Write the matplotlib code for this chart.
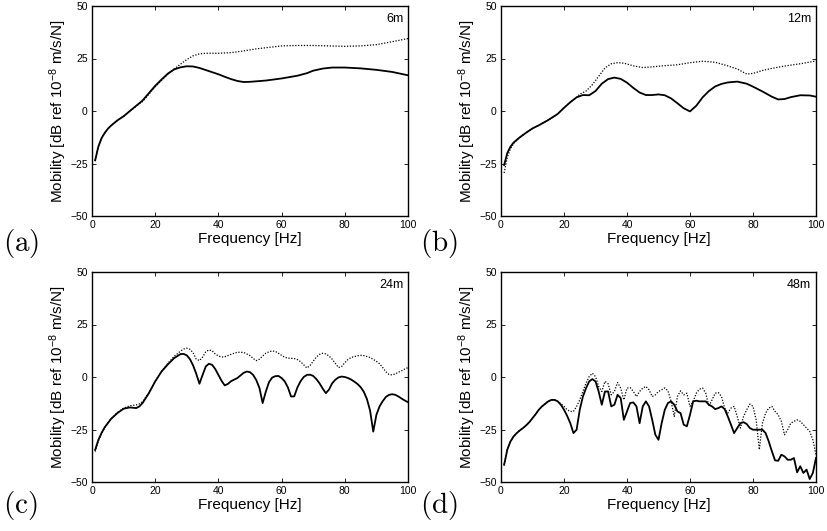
import matplotlib
matplotlib.use("Agg")
import matplotlib.pyplot as plt

plt.rcParams['font.family'] = ['Liberation Sans', 'DejaVu Sans']
plt.rcParams['mathtext.fontset'] = 'cm'
plt.rcParams['mathtext.default'] = 'regular'

# ---------------- data ----------------
# (a) 6m
fa_s = [1, 2, 3, 4, 5, 6, 8, 10, 12, 14, 16, 18, 20, 22, 24, 26, 28, 30, 32, 34, 36, 38, 40,
        42, 44, 46, 48, 50, 55, 60, 65, 68, 70, 73, 76, 80, 85, 90, 95, 100]
va_s = [-23.5, -17, -13, -10.5, -8.5, -7, -4.5, -2.5, 0, 2.5, 5, 8.5, 12, 15, 17.8, 19.8, 20.8,
        21.3, 21.2, 20.5, 19.5, 18.5, 17.5, 16.3, 15.2, 14.3, 13.8, 13.9, 14.5, 15.5, 16.8, 18,
        19.2, 20.2, 20.7, 20.7, 20.3, 19.6, 18.6, 17]
fa_d = [1, 2, 3, 4, 5, 6, 8, 10, 12, 14, 16, 18, 20, 22, 24, 26, 28, 30, 32, 34, 36, 40, 44,
        48, 52, 56, 60, 65, 70, 75, 80, 85, 90, 95, 100]
va_d = [-23.5, -17, -13, -10.5, -8.5, -7, -4.5, -2.5, 0, 2.3, 4.5, 8, 11.5, 14.5, 17.5, 20,
        22.3, 24.5, 26.3, 27.2, 27.5, 27.5, 27.8, 28.6, 29.6, 30.3, 31, 31.2, 31.2, 31, 30.8,
        31, 31.6, 33, 34.5]

# (b) 12m
fb_s = [1, 2, 3, 4, 6, 8, 10, 12, 15, 18, 20, 22, 24, 26, 28, 30, 32, 34, 36, 38, 40, 42, 44,
        46, 48, 50, 52, 54, 56, 58, 60, 62, 64, 66, 68, 70, 72, 75, 78, 80, 83, 86, 88, 90, 92,
        95, 98, 100]
vb_s = [-25.7, -20, -17, -15, -12.5, -10.3, -8.3, -6.8, -4.3, -1.4, 1.5, 4.2, 6.5, 7.6, 7.5,
        9.5, 13, 15.2, 15.9, 15.3, 13.5, 11, 8.8, 7.6, 7.6, 7.9, 7.5, 6, 3.7, 1.3, -0.2, 2.5,
        6.5, 9.5, 11.7, 12.9, 13.6, 14, 13, 11.6, 9.3, 6.8, 5.5, 5.7, 6.6, 7.5, 7.4, 6.8]
fb_d = [1, 2, 3, 4, 6, 8, 10, 12, 15, 18, 20, 22, 24, 25, 27, 29, 31, 33, 35, 37, 39, 42, 45,
        48, 52, 56, 60, 64, 68, 72, 75, 78, 80, 83, 86, 90, 95, 100]
vb_d = [-29.5, -22, -18, -15.5, -12.5, -10.3, -8.3, -6.8, -4.3, -1.4, 1.5, 4.2, 6.5, 8, 9.5,
        12.5, 16.5, 20.5, 22.5, 23, 22.8, 21.5, 20.7, 21, 21.6, 22, 23, 23.7, 23.2, 21.5, 20,
        17.6, 17.9, 19.3, 20.3, 21.4, 22.5, 23.8]

# (c) 24m
fc_s = [1, 2, 3, 4, 5, 6, 8, 10, 12, 14, 15, 16, 18, 20, 22, 24, 26, 28, 29, 30, 31, 32, 33,
        34, 35, 36, 37, 38, 39, 40, 41, 42, 43, 44, 46, 48, 49, 50, 51, 52, 53, 54, 55, 56, 57,
        58, 59, 60, 61, 62, 63, 64, 65, 66, 67, 68, 69, 70, 71, 72, 73, 74, 75, 76, 77, 78, 79,
        80, 81, 82, 83, 84, 85, 86, 87, 88, 89, 90, 91, 92, 93, 94, 95, 96, 97, 98, 99, 100]
vc_s = [-34.7, -30, -26.7, -24, -22, -20, -17.2, -15.1, -14.5, -14.8, -14, -12.4, -7.7, -2.1,
        2.6, 6, 9, 10.9, 11, 10.3, 8.5, 5.5, 1.5, -3.2, 1, 5, 6.3, 5.8, 3.8, 1, -1.8, -4, -3.3,
        -2, -0.5, 2, 2.6, 2.3, 1, -1.5, -5.3, -12.4, -7, -2.5, -0.3, 0.4, 0.5, -0.5, -2.1, -5,
        -9.3, -9.2, -5, -2, 0, 1, 1.1, 0.5, -1, -3, -5.5, -7.7, -6, -3, -1.3, -0.2, 0.2, 0,
        -0.5, -1.2, -2.2, -3.3, -4.8, -7, -10.5, -16, -26, -18, -14, -11.5, -9.5, -8.5, -8.2,
        -8.5, -9.3, -10.3, -11.2, -12]
fc_d = [1, 2, 3, 4, 5, 6, 8, 10, 12, 14, 15, 16, 18, 20, 22, 24, 26, 28, 29, 30, 31, 32, 33,
        34, 35, 36, 37, 38, 39, 40, 41, 42, 44, 46, 48, 50, 51, 52, 53, 54, 55, 56, 57, 58, 59,
        60, 61, 62, 64, 65, 66, 67, 68, 69, 70, 71, 72, 73, 74, 75, 76, 77, 78, 79, 80, 81, 82,
        84, 85, 86, 88, 90, 91, 92, 93, 94, 95, 96, 97, 98, 99, 100]
vc_d = [-35.5, -30.5, -27, -24.2, -22, -20, -17, -14.8, -13.7, -13.3, -12.8, -11.8, -7.5, -2,
        2.7, 6.5, 9.8, 12.3, 13.3, 13.7, 13.2, 11.5, 8.5, 7.8, 9.5, 12, 12.9, 12.5, 11, 10,
        9.5, 9.6, 10.8, 11.8, 11.7, 10.2, 8.8, 7.8, 8.5, 10, 11.3, 12, 12.4, 12.2, 11.3, 10.3,
        9.4, 9, 8.8, 8.3, 7.3, 5.8, 4.3, 5.5, 7.5, 9.5, 10.8, 11.3, 11, 10, 8.5, 6.5, 4.5, 5,
        6.8, 8.3, 9.3, 10.1, 10.3, 10.2, 9.3, 7.5, 6.3, 4.5, 2.5, 1.2, 1, 1.5, 2.3, 3, 3.8, 4.5]

# (d) 48m  (1 Hz resolution)
fd = list(range(1, 101))
vd_s = [-41.8, -34.6, -30.7, -28.3, -26.7, -25.4, -24.3, -23, -21.5, -19.6,
        -17.7, -15.6, -14, -12.8, -11.6, -10.9, -10.9, -11.6, -13.2, -15.6,
        -18.5, -22, -26.7, -25.1, -15.6, -9.3, -5.3, -2.1, -1, -2.1,
        -6.9, -13.2, -6.9, -6.9, -14, -13.2, -8.5, -10, -20.4, -16.4,
        -12.4, -12.1, -14, -22, -14, -11.6, -14, -20.4, -27.5, -29.9,
        -22, -15.6, -12.4, -11.6, -13.2, -16.4, -17.2, -22.7, -23.5, -18,
        -11.6, -11.3, -11.6, -11.6, -11.6, -13.2, -14, -15.3, -14.8, -14,
        -15.3, -18.8, -22.7, -26.7, -24.3, -22, -21.5, -22.4, -24.3, -25.1,
        -25.1, -25.1, -25.1, -26.7, -30.7, -35.4, -39.7, -39.9, -37, -37.8,
        -39.4, -39.4, -38.6, -45.4, -42.5, -45.7, -44.1, -48.6, -45.7, -38.6]
vd_d = [-41.8, -34.6, -30.7, -28.3, -26.7, -25.4, -24.3, -23, -21.5, -19.6,
        -17.7, -15.6, -14, -12.8, -11.6, -10.9, -10.9, -11.6, -12.8, -14,
        -15.6, -16.4, -16.4, -14, -10.9, -6.9, -2.9, 0.2, 1.8, 0.2,
        -4.5, -6.9, -2.1, -3.2, -8.5, -6.9, -2.6, -5.3, -10.9, -5.3,
        -5, -6.9, -9.3, -6.9, -5.3, -4.5, -6.1, -9.3, -8.5, -6.9,
        -6.1, -5.2, -6.6, -11.6, -18.8, -9.3, -6.6, -8.5, -7.7, -14,
        -11.6, -7.7, -5.8, -5.3, -7.7, -14, -10.9, -7.7, -7.4, -9.3,
        -14.8, -17.2, -14.8, -14, -18.8, -24.3, -18.8, -15.6, -12.9, -14,
        -20.4, -34.6, -22, -17.2, -14.8, -14, -16.4, -18, -21.1, -27.5,
        -25.1, -22, -21.1, -20.4, -21.1, -22.7, -24.3, -25.9, -29.9, -37]

panels = [
    dict(fs=fa_s, vs=va_s, fdd=fa_d, vdd=va_d, tag='6m', lab='(a)'),
    dict(fs=fb_s, vs=vb_s, fdd=fb_d, vdd=vb_d, tag='12m', lab='(b)'),
    dict(fs=fc_s, vs=vc_s, fdd=fc_d, vdd=vc_d, tag='24m', lab='(c)'),
    dict(fs=fd, vs=vd_s, fdd=fd, vdd=vd_d, tag='48m', lab='(d)'),
]

xticks = [0, 20, 40, 60, 80, 100]
yticks = [-50, -25, 0, 25, 50]

W, H = 827, 531
fig = plt.figure(figsize=(W / 100, H / 100), dpi=100)

# pixel boxes: left, top, right, bottom
boxes = [(92, 6, 408, 216), (501, 6, 816, 216), (92, 272, 408, 482), (501, 272, 816, 482)]
labpos = [(3, 251), (420, 251), (3, 513), (420, 513)]

for p, (l, t, r, b), (lx, ly) in zip(panels, boxes, labpos):
    ax = fig.add_axes([l / W, 1 - b / H, (r - l) / W, (b - t) / H])
    ax.plot(p['fdd'], p['vdd'], color='black', lw=0.9, ls=(0, (1, 1.3)))
    ax.plot(p['fs'], p['vs'], color='black', lw=1.3)
    ax.set_xlim(0, 100)
    ax.set_ylim(-50, 50)
    ax.set_xticks(xticks)
    ax.set_yticks(yticks)
    ax.tick_params(direction='in', top=True, right=True, length=3, width=0.6,
                   labelsize=7.5, pad=3)
    for s in ax.spines.values():
        s.set_linewidth(1.0)
    ax.set_xlabel('Frequency [Hz]', fontsize=11, labelpad=1)
    ax.set_ylabel(r'Mobility [dB ref 10$^{-8}$ m/s/N]', fontsize=11, labelpad=1)
    ax.text(0.985, 0.965, p['tag'], transform=ax.transAxes, ha='right', va='top', fontsize=9)
    fig.text(lx / W, 1 - ly / H, r'$\mathrm{' + p['lab'] + '}$', fontsize=21,
             ha='left', va='baseline')

fig.savefig('out.png', dpi=100)
